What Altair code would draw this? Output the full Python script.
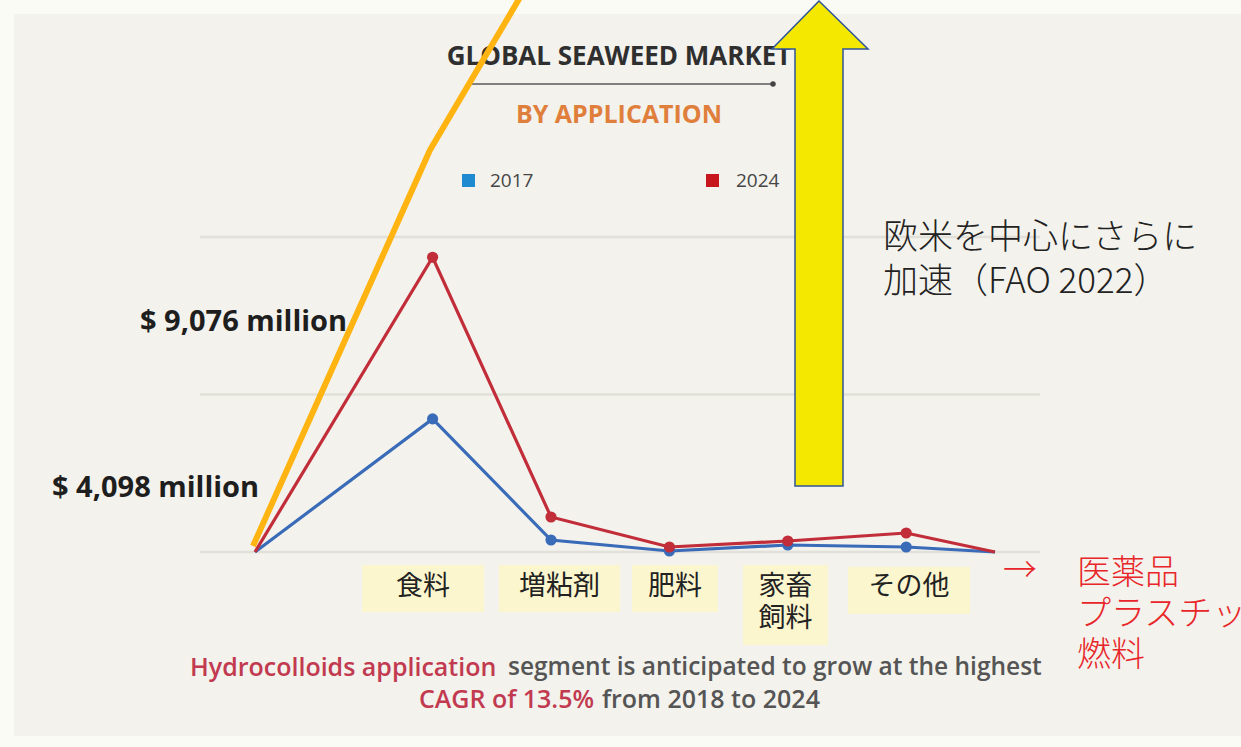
import altair as alt
import pandas as pd

# ---------------- data ----------------
categories = ["食料", "増粘剤", "肥料", "家畜飼料", "その他"]
values_2017 = [4098, 369, 31, 215, 154]
values_2024 = [9076, 1078, 154, 339, 585]
series_names = ["2017", "2024"]
series_colors = ["#3a6bb8", "#c22d3a"]
lead_in_value = 0          # line starts at baseline left of the first category
tail_value = 0             # and ends at baseline right of the last one
gridline_values = [0, 4850, 9700]
value_labels = ["$ 9,076 million", "$ 4,098 million"]
legend_labels = ["2017", "2024"]
title_text = "GLOBAL SEAWEED MARKET"
subtitle_text = "BY APPLICATION"
note_lines = ["欧米を中心にさらに", "加速（FAO 2022）"]
red_notes = ["医薬品", "プラスチック", "燃料"]

W, H = 1241, 747
xs = alt.Scale(domain=[-1.5, 4.75], range=[255, 995], nice=False, zero=False)
ys = alt.Scale(domain=[0, 9700], range=[552, 237], nice=False, zero=False)

rows = []
for name, vals in zip(series_names, [values_2017, values_2024]):
    rows.append({"series": name, "pos": -1.5, "value": lead_in_value, "cat": ""})
    for i, (c, v) in enumerate(zip(categories, vals)):
        rows.append({"series": name, "pos": float(i), "value": v, "cat": c})
    rows.append({"series": name, "pos": 4.75, "value": tail_value, "cat": ""})
df = pd.DataFrame(rows)
pts = df[df["cat"] != ""]

color = alt.Color("series:N", scale=alt.Scale(domain=series_names, range=series_colors), legend=None)

layers = []
one = pd.DataFrame({"a": [0]})

# image background
layers.append(alt.Chart(one).mark_rect(color="#f3f2ec").encode(
    x=alt.value(14), x2=alt.value(W), y=alt.value(14), y2=alt.value(736)))

# gridlines
layers.append(alt.Chart(pd.DataFrame({"g": gridline_values})).mark_rule(
    color="#e1e0d9", strokeWidth=2.5).encode(
    y=alt.Y("g:Q", scale=ys, axis=None), x=alt.value(200), x2=alt.value(1040)))

# data lines and points
layers.append(alt.Chart(df).mark_line(strokeWidth=3.2, opacity=1).encode(
    x=alt.X("pos:Q", scale=xs, axis=None),
    y=alt.Y("value:Q", scale=ys, axis=None),
    color=color, order="pos:Q"))
layers.append(alt.Chart(pts).mark_circle(size=125, opacity=1).encode(
    x=alt.X("pos:Q", scale=xs, axis=None),
    y=alt.Y("value:Q", scale=ys, axis=None),
    color=color))


def txt(text, x, y, size, color, weight="normal", font="Open Sans", align="left",
        baseline="middle", line_height=None):
    kw = {}
    if line_height is not None:
        kw = {"lineBreak": "\n", "lineHeight": line_height}
    return alt.Chart(pd.DataFrame({"t": [text]})).mark_text(
        font=font, fontSize=size, fontWeight=weight, color=color, align=align,
        baseline=baseline, **kw).encode(
        x=alt.value(x), y=alt.value(y), text="t:N")


# titles
layers.append(txt(title_text, 619, 57, 26, "#2f2f2f", "bold", align="center"))
layers.append(alt.Chart(one).mark_rule(color="#5a5a5a", strokeWidth=1.5).encode(
    x=alt.value(467), x2=alt.value(773), y=alt.value(84)))
layers.append(alt.Chart(one).mark_circle(color="#444444", size=30, opacity=1).encode(
    x=alt.value(773), y=alt.value(84)))
layers.append(txt(subtitle_text, 619, 115, 25, "#e07f3c", "bold", align="center"))

# legend
layers.append(alt.Chart(one).mark_rect(color="#1f8ad0").encode(
    x=alt.value(462), x2=alt.value(475), y=alt.value(174), y2=alt.value(187)))
layers.append(alt.Chart(one).mark_rect(color="#c8161f").encode(
    x=alt.value(706), x2=alt.value(719), y=alt.value(174), y2=alt.value(187)))
layers.append(txt(legend_labels[0], 490, 181, 19, "#454545"))
layers.append(txt(legend_labels[1], 736, 181, 19, "#454545"))

# value labels
layers.append(txt(value_labels[0], 140, 322, 29, "#1e1e1e", "bold"))
layers.append(txt(value_labels[1], 52, 488, 29, "#1e1e1e", "bold"))

# orange hand-drawn line (custom path, pixel units)
layers.append(alt.Chart(one).mark_point(
    shape="M253,546 L430,150 L522,-6", filled=False, stroke="#ffb412", strokeWidth=6,
    opacity=1, strokeJoin="round").encode(x=alt.value(0), y=alt.value(0), size=alt.value(4)))

# yellow arrow
layers.append(alt.Chart(one).mark_point(
    shape="M819,1 L868,49 L843,49 L843,486 L795,486 L795,49 L772,49 Z",
    filled=True, fill="#f4e800", stroke="#2f5597", strokeWidth=1.5, opacity=1).encode(
    x=alt.value(0), y=alt.value(0), size=alt.value(4)))

# category boxes with Japanese labels
boxes = [(362, 484, 565, 612), (499, 620, 565, 612), (632, 718, 565, 612),
         (743, 828, 565, 645), (848, 970, 567, 614)]
for (x1, x2, y1, y2), lab in zip(boxes, categories):
    layers.append(alt.Chart(one).mark_rect(color="#fcf6cf").encode(
        x=alt.value(x1), x2=alt.value(x2), y=alt.value(y1), y2=alt.value(y2)))
    cx = (x1 + x2) / 2
    if len(lab) == 4:
        layers.append(txt(lab[:2] + "\n" + lab[2:], cx, 587, 27, "#222222",
                          font="Noto Sans CJK JP", align="center", line_height=32))
    else:
        layers.append(txt(lab, cx, 587, 27, "#222222", font="Noto Sans CJK JP", align="center"))

# black annotation
layers.append(txt("\n".join(note_lines), 883, 238, 35, "#222222", 300,
                  font="Noto Sans CJK JP", line_height=44))

# red annotation
layers.append(txt("→", 1003, 572, 34, "#e8262a", 300, font="Noto Sans CJK JP"))
layers.append(txt("\n".join(red_notes), 1077, 574, 34, "#e8262a", 300,
                  font="Noto Sans CJK JP", line_height=41))

# bottom caption
layers.append(txt("Hydrocolloids application", 190, 668, 25, "#c23a50", 600))
layers.append(txt("segment is anticipated to grow at the highest", 508, 668, 24.5, "#555555", 600))
layers.append(txt("CAGR of 13.5%", 419, 700, 25, "#c23a50", 600))
layers.append(txt("from 2018 to 2024", 602, 700, 25, "#555555", 600))

chart = alt.layer(*layers).properties(
    width=W, height=H, padding=0, autosize="none", background="#fbfbf6"
).configure_view(stroke=None)

chart.save("out.html", embed_options={"renderer": "svg", "actions": False})
